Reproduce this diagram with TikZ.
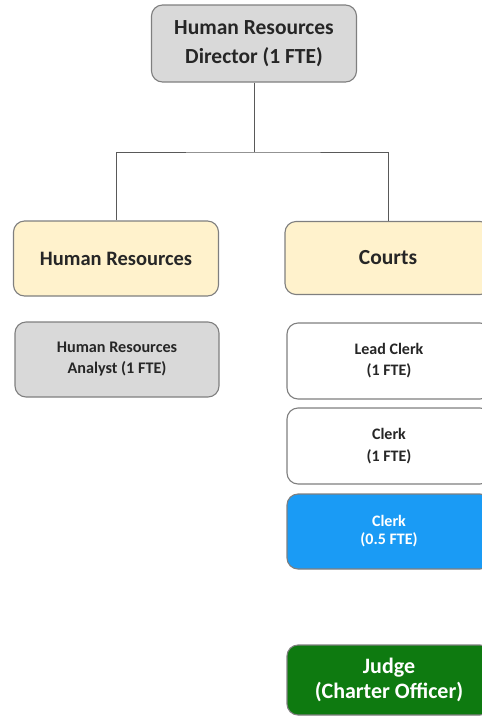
\documentclass[tikz,border=0pt]{standalone}
\usepackage{fontspec}
\setmainfont{Carlito}
\definecolor{boxgray}{HTML}{D9D9D9}
\definecolor{boxyellow}{HTML}{FFF2CC}
\definecolor{boxblue}{HTML}{1A9BF5}
\definecolor{boxgreen}{HTML}{0E7A10}
\definecolor{edgegray}{HTML}{7F7F7F}
\definecolor{txtdark}{HTML}{262626}
\definecolor{linegray}{HTML}{595959}
\tikzset{
  orgbox/.style={draw=edgegray, line width=1.1pt, rounded corners=11pt, align=center,
    inner sep=0pt, font=\bfseries, text=txtdark},
  connector/.style={draw=linegray, line width=1pt}
}
\begin{document}
\begin{tikzpicture}[x=1pt,y=-1pt]
\useasboundingbox (0,0) rectangle (482,716);
\begin{scope}
\clip (0,0) rectangle (482,716);
\node[orgbox, fill=boxgray, minimum width=205pt, minimum height=77pt,
  font=\bfseries\fontsize{21.5}{29}\selectfont] (dir) at (254,43.5) {Human Resources\\Director (1 FTE)};
\node[orgbox, fill=boxyellow, minimum width=205pt, minimum height=75pt,
  font=\bfseries\fontsize{20.5}{24}\selectfont] (hr) at (116,258.5) {Human Resources};
\node[orgbox, fill=boxyellow, minimum width=206pt, minimum height=73pt,
  font=\bfseries\fontsize{21.5}{24}\selectfont] (courts) at (388,258) {Courts};
\node[orgbox, fill=boxgray, minimum width=204pt, minimum height=75pt,
  font=\bfseries\fontsize{16.2}{21}\selectfont] (analyst) at (117,359.5) {Human Resources\\Analyst (1 FTE)};
\node[orgbox, fill=white, minimum width=204pt, minimum height=76pt,
  font=\bfseries\fontsize{16}{21}\selectfont] (lead) at (389,361) {Lead Clerk\\(1 FTE)};
\node[orgbox, fill=white, minimum width=204pt, minimum height=76pt,
  font=\bfseries\fontsize{16}{22}\selectfont] (clerka) at (389,446) {Clerk\\(1 FTE)};
\node[orgbox, fill=boxblue, text=white, minimum width=204pt, minimum height=75pt,
  font=\bfseries\fontsize{16}{18}\selectfont] (clerkb) at (389,531.5) {Clerk\\(0.5 FTE)};
\node[orgbox, fill=boxgreen, text=white, minimum width=204pt, minimum height=70pt,
  font=\bfseries\fontsize{22}{25}\selectfont] (judge) at (389,680) {Judge\\(Charter Officer)};
\coordinate (bus) at (254,152);
\draw[connector] (dir.south) -- (bus);
\draw[connector] (hr.north) |- (bus) -| (courts.north);
\end{scope}
\end{tikzpicture}
\end{document}
